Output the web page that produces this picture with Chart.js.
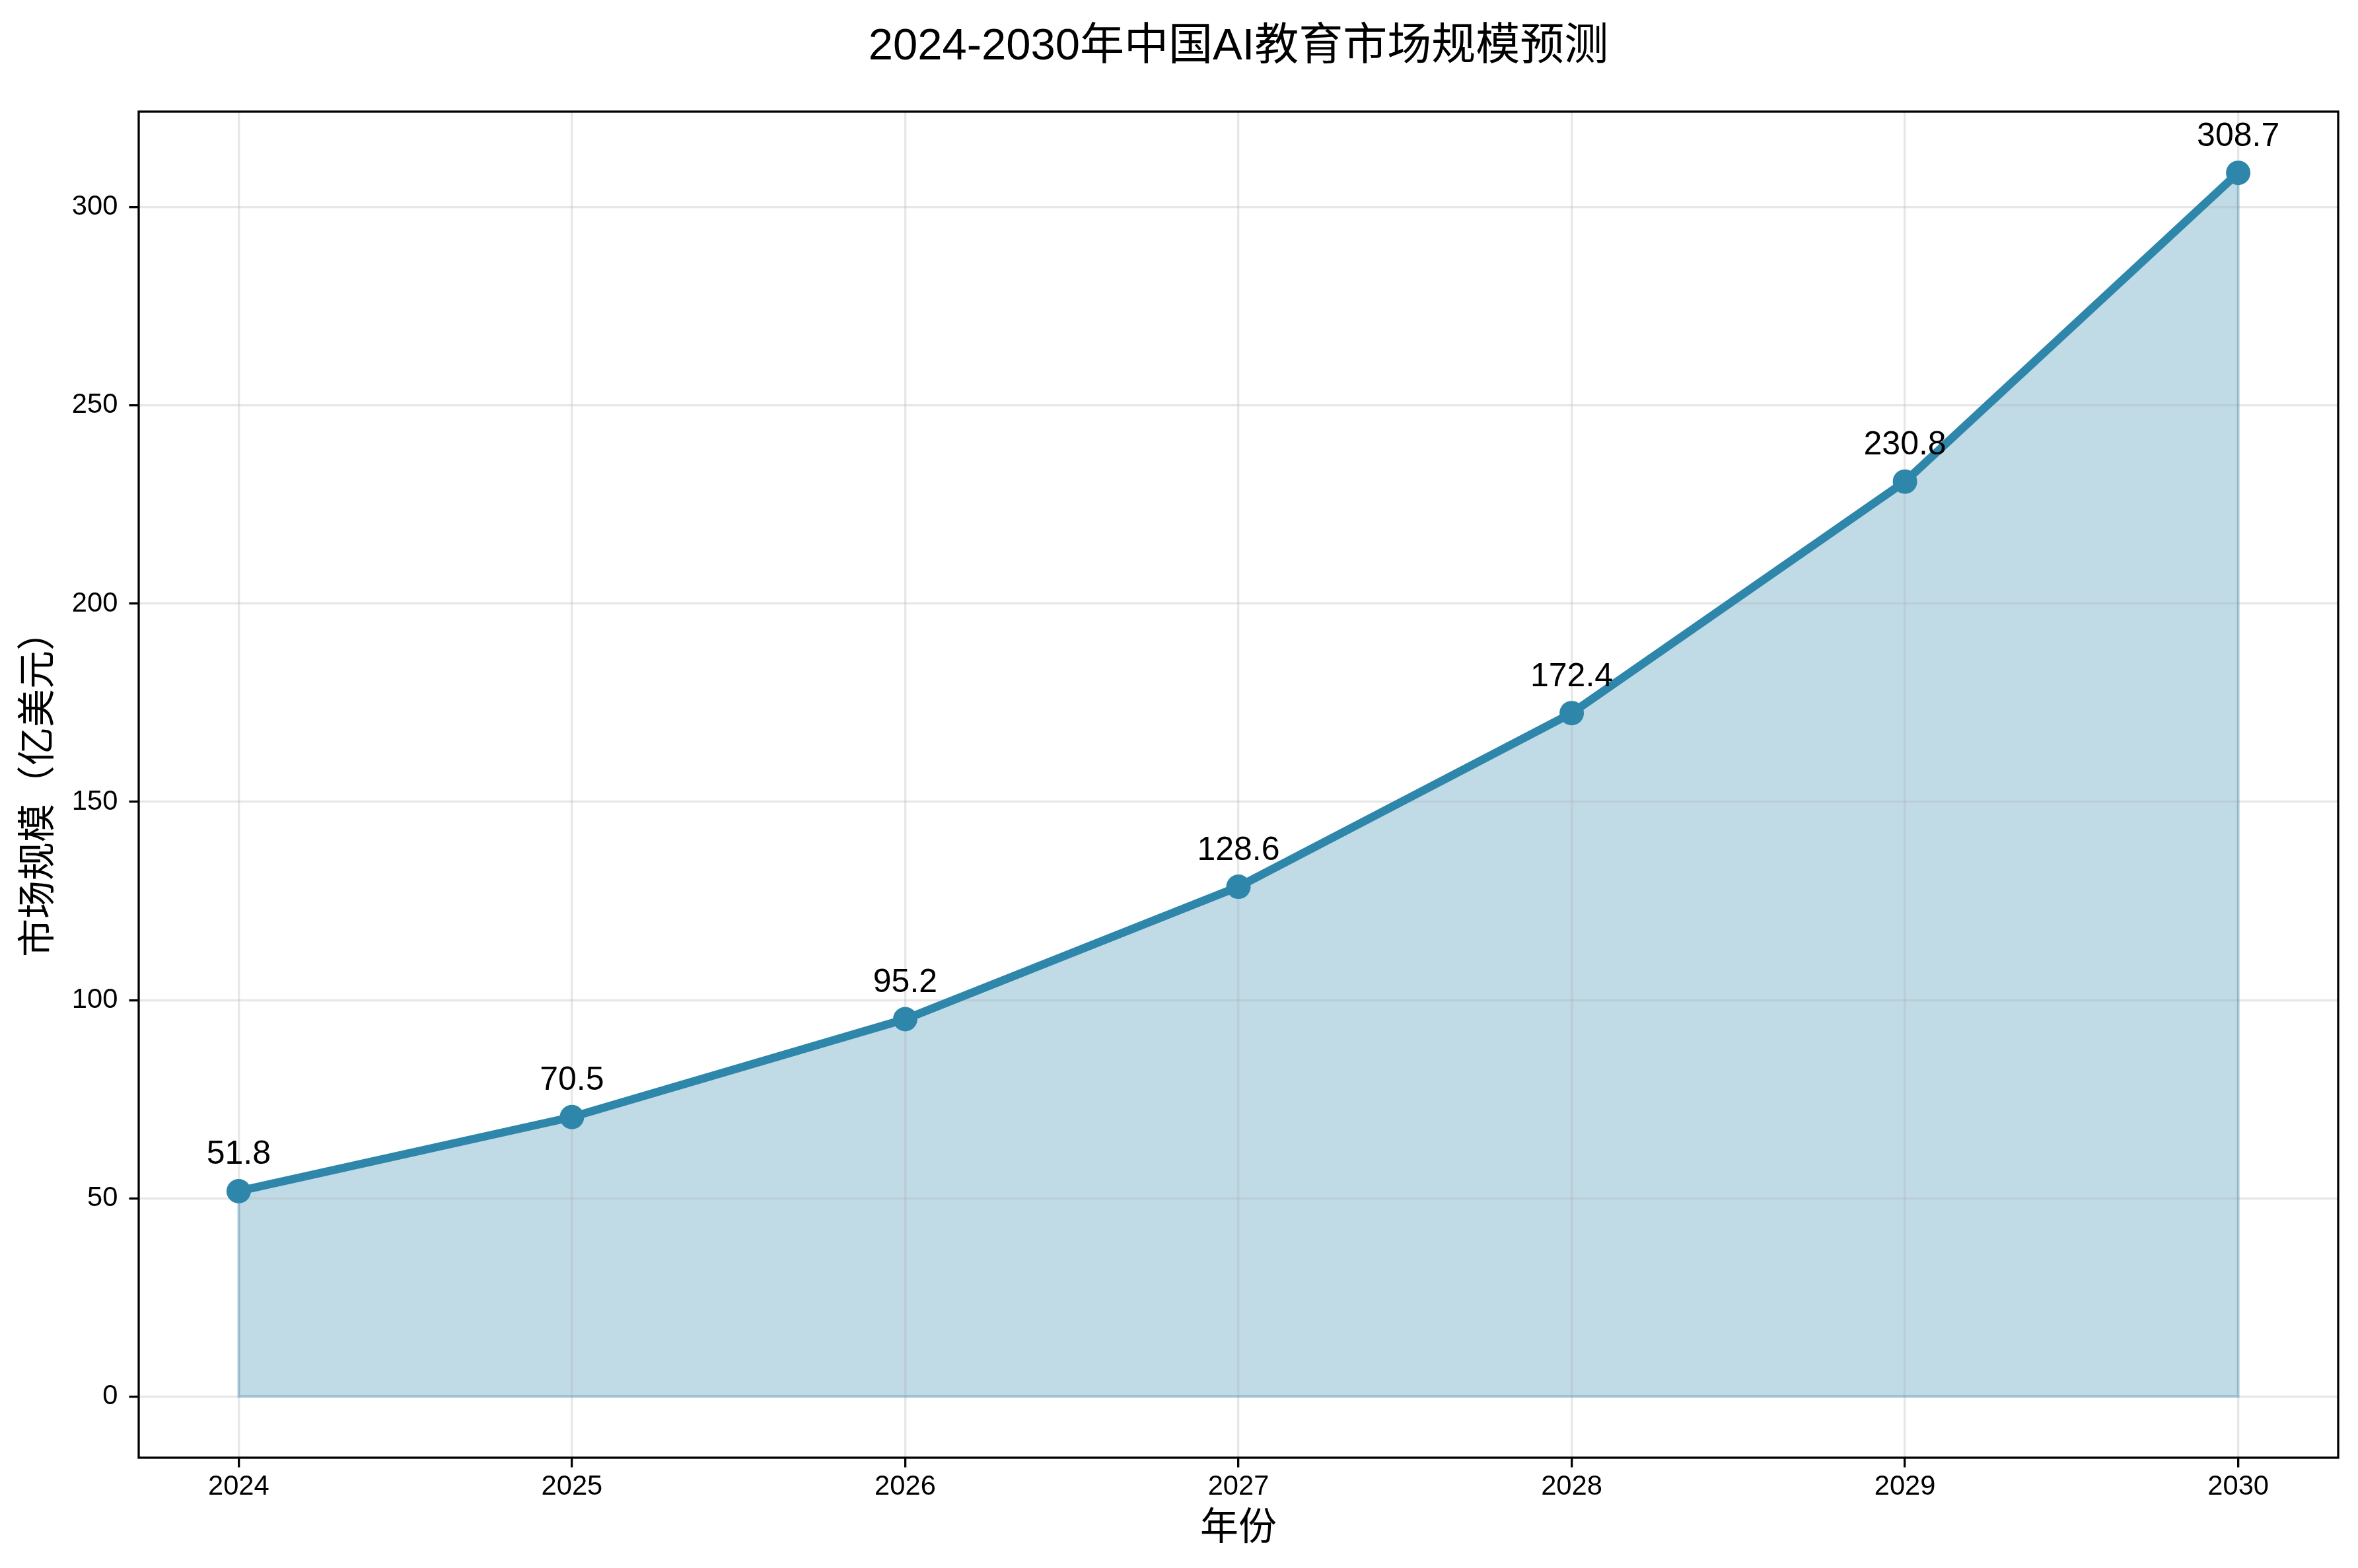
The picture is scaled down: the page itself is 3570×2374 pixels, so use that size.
<!DOCTYPE html>
<html>
<head>
<meta charset="utf-8">
<script src="https://cdn.jsdelivr.net/npm/chart.js@4/dist/chart.umd.min.js"></script>
<style>
  html, body { margin: 0; padding: 0; background: #ffffff; }
  #wrap { width: 3570px; height: 2374px; }
</style>
</head>
<body>
<div id="wrap"><canvas id="chart" width="3570" height="2374"></canvas></div>
<script>
// chart values
var years = [2024, 2025, 2026, 2027, 2028, 2029, 2030];
var marketSize = [51.8, 70.5, 95.2, 128.6, 172.4, 230.8, 308.7];
var yTicks = [0, 50, 100, 150, 200, 250, 300];

var titleText = '2024-2030年中国AI教育市场规模预测';
var xLabel = '年份';
var yLabel = '市场规模（亿美元）';

var lineColor = '#2E86AB';
var fillColor = 'rgba(46,134,171,0.3)';
var fontFamily = '"Liberation Sans", "Noto Sans CJK SC", sans-serif';

var points = years.map(function (y, i) { return { x: y, y: marketSize[i] }; });
// outline of the filled area (left edge, baseline, right edge)
var last = years.length - 1;
var outline = [
    { x: years[0], y: marketSize[0] },
    { x: years[0], y: 0 },
    { x: years[last], y: 0 },
    { x: years[last], y: marketSize[last] }
];

// data range with 5% margins, like the original plot
var xPad = (years[last] - years[0]) * 0.05;
var yMaxData = Math.max.apply(null, marketSize);
var yPad = yMaxData * 0.05;

var decorations = {
    id: 'decorations',
    afterDatasetsDraw: function (chart) {
        var ctx = chart.ctx;
        var area = chart.chartArea;
        var xs = chart.scales.x, ys = chart.scales.y;
        ctx.save();
        // value labels above each point
        ctx.fillStyle = '#000000';
        ctx.font = '50px ' + fontFamily;
        ctx.textAlign = 'center';
        ctx.textBaseline = 'alphabetic';
        points.forEach(function (p) {
            ctx.fillText(p.y.toFixed(1), xs.getPixelForValue(p.x), ys.getPixelForValue(p.y) - 41);
        });
        // axes frame
        ctx.strokeStyle = '#000000';
        ctx.lineWidth = 3.3;
        ctx.strokeRect(area.left, area.top, area.right - area.left, area.bottom - area.top);
        ctx.restore();
    },
    afterDraw: function (chart) {
        var ctx = chart.ctx;
        var area = chart.chartArea;
        var cx = (area.left + area.right) / 2;
        var cy = (area.top + area.bottom) / 2;
        ctx.save();
        ctx.fillStyle = '#000000';
        ctx.textAlign = 'center';
        ctx.font = '67px ' + fontFamily;
        ctx.textBaseline = 'alphabetic';
        ctx.fillText(titleText, cx, 90);
        ctx.font = '58px ' + fontFamily;
        ctx.textBaseline = 'middle';
        ctx.fillText(xLabel, cx, 2315);
        ctx.translate(60, cy);
        ctx.rotate(-Math.PI / 2);
        ctx.fillText(yLabel, 0, 0);
        ctx.restore();
    }
};

new Chart(document.getElementById('chart'), {
    type: 'line',
    data: {
        datasets: [{
            data: points,
            borderColor: lineColor,
            borderWidth: 12.5,
            backgroundColor: fillColor,
            fill: 'origin',
            tension: 0,
            pointRadius: 18.5,
            pointHoverRadius: 18.5,
            pointBackgroundColor: lineColor,
            pointBorderColor: lineColor,
            pointBorderWidth: 0,
            order: 1
        }, {
            data: outline,
            borderColor: fillColor,
            borderWidth: 4,
            fill: false,
            pointRadius: 0,
            tension: 0,
            order: 2
        }]
    },
    options: {
        responsive: false,
        devicePixelRatio: 1,
        animation: false,
        events: [],
        layout: { padding: { top: 169, right: 30, left: 0, bottom: 0 } },
        plugins: {
            legend: { display: false },
            tooltip: { enabled: false },
            title: { display: false },
            filler: { drawTime: 'beforeDraw' }
        },
        scales: {
            x: {
                type: 'linear',
                min: years[0] - xPad,
                max: years[last] + xPad,
                afterBuildTicks: function (scale) {
                    scale.ticks = years.map(function (v) { return { value: v }; });
                },
                afterFit: function (scale) { scale.height = 167; },
                grid: {
                    color: 'rgba(176,176,176,0.3)',
                    lineWidth: 3.3,
                    tickLength: 14.6,
                    tickColor: '#000000',
                    tickWidth: 3.3
                },
                border: { display: false },
                ticks: {
                    color: '#000000',
                    padding: 5,
                    maxRotation: 0,
                    autoSkip: false,
                    font: { family: fontFamily, size: 41.7 },
                    callback: function (v) { return String(v); }
                }
            },
            y: {
                type: 'linear',
                min: -yPad,
                max: yMaxData + yPad,
                afterBuildTicks: function (scale) {
                    scale.ticks = yTicks.map(function (v) { return { value: v }; });
                },
                afterFit: function (scale) { scale.width = 210; },
                grid: {
                    color: 'rgba(176,176,176,0.3)',
                    lineWidth: 3.3,
                    tickLength: 14.6,
                    tickColor: '#000000',
                    tickWidth: 3.3
                },
                border: { display: false },
                ticks: {
                    color: '#000000',
                    padding: 17,
                    autoSkip: false,
                    font: { family: fontFamily, size: 41.7 },
                    callback: function (v) { return String(v); }
                }
            }
        }
    },
    plugins: [decorations]
});
</script>
</body>
</html>
